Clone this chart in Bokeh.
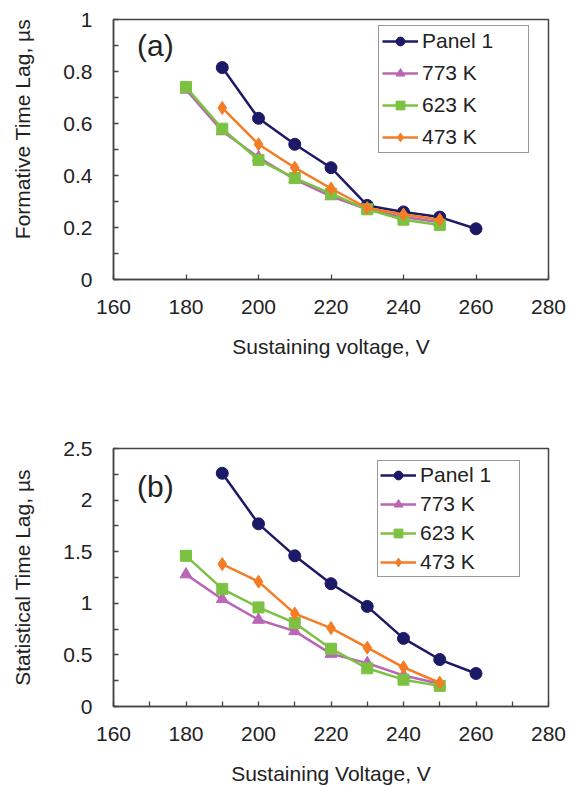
from bokeh.plotting import figure
from bokeh.layouts import column
from bokeh.models import Range1d, FixedTicker, CustomJSTickFormatter, Legend, LegendItem, Label
from bokeh.embed import file_html
from bokeh.resources import INLINE

# ---------------- data ----------------
volt_panel1 = [190, 200, 210, 220, 230, 240, 250, 260]
volt_heat = [180, 190, 200, 210, 220, 230, 240, 250]
volt_473 = [190, 200, 210, 220, 230, 240, 250]

form_panel1 = [0.815, 0.62, 0.52, 0.43, 0.285, 0.26, 0.24, 0.195]
form_773 = [0.73, 0.57, 0.47, 0.385, 0.32, 0.27, 0.24, 0.22]
form_623 = [0.74, 0.58, 0.46, 0.39, 0.33, 0.27, 0.23, 0.21]
form_473 = [0.66, 0.52, 0.43, 0.35, 0.275, 0.25, 0.23]

stat_panel1 = [2.26, 1.77, 1.46, 1.19, 0.97, 0.66, 0.455, 0.32]
stat_773 = [1.28, 1.04, 0.84, 0.73, 0.51, 0.42, 0.30, 0.22]
stat_623 = [1.46, 1.14, 0.96, 0.81, 0.56, 0.37, 0.26, 0.20]
stat_473 = [1.38, 1.21, 0.90, 0.76, 0.57, 0.38, 0.23]

series_names = ["Panel 1", "773 K", "623 K", "473 K"]
x_ticks = [160, 180, 200, 220, 240, 260, 280]
x_minor_b = [170, 190, 210, 230, 250, 270]
y_ticks_a = [0, 0.2, 0.4, 0.6, 0.8, 1.0]
y_minor_a = [0.1, 0.3, 0.5, 0.7, 0.9]
y_ticks_b = [0, 0.5, 1.0, 1.5, 2.0, 2.5]
y_minor_b = [0.25, 0.75, 1.25, 1.75, 2.25]

# ---------------- styles ----------------
FONT = "Liberation Sans"
TXT = "#222222"
AX = "#444444"
FS = "21px"
styles = [
    dict(color="#1c1a66", marker="circle", size=12),
    dict(color="#b966b5", marker="triangle", size=12),
    dict(color="#7cc242", marker="square", size=11),
    dict(color="#f47c24", marker="diamond", size=13),
]
fmt = CustomJSTickFormatter(code="return String(Math.round(tick*100)/100);")


def make_fig(ymax, yt, ymin, xminor, ylabel, xlabel, top, fh, bottom,
             xs_list, ys_list, tag, leg_loc, leg_pad, leg_spacing, leg_lw,
             tag_y):
    p = figure(frame_width=435, frame_height=fh, output_backend="svg",
               toolbar_location=None, x_range=Range1d(160, 280),
               y_range=Range1d(0, ymax), min_border_left=113,
               min_border_right=22, min_border_top=top,
               min_border_bottom=bottom, background_fill_color="white",
               border_fill_color="white")
    p.grid.visible = False
    p.outline_line_color = AX
    p.outline_line_width = 1.5
    p.xaxis.ticker = FixedTicker(ticks=x_ticks, minor_ticks=xminor)
    p.yaxis.ticker = FixedTicker(ticks=yt, minor_ticks=ymin)
    for ax in (p.xaxis[0], p.yaxis[0]):
        ax.formatter = fmt
        ax.axis_line_color = AX
        ax.axis_line_width = 1.5
        ax.major_tick_line_color = AX
        ax.minor_tick_line_color = AX
        ax.major_tick_line_width = 1.3
        ax.minor_tick_line_width = 1.3
        ax.major_tick_in = 5
        ax.major_tick_out = 0
        ax.minor_tick_in = 5
        ax.minor_tick_out = 0
        ax.major_label_text_font = FONT
        ax.major_label_text_font_size = FS
        ax.major_label_text_color = TXT
        ax.axis_label_text_font = FONT
        ax.axis_label_text_font_size = FS
        ax.axis_label_text_font_style = "normal"
        ax.axis_label_text_color = TXT
    p.xaxis.major_label_standoff = 20
    p.yaxis.major_label_standoff = 21
    p.xaxis.axis_label = xlabel
    p.yaxis.axis_label = ylabel
    p.xaxis.axis_label_standoff = 18
    p.yaxis.axis_label_standoff = 26

    items = []
    for name, xs, ys, st in zip(series_names, xs_list, ys_list, styles):
        r1 = p.line(xs, ys, line_color=st["color"], line_width=2.5)
        r2 = p.scatter(xs, ys, marker=st["marker"], size=st["size"],
                       fill_color=st["color"], line_color=st["color"])
        items.append(LegendItem(label=name, renderers=[r1, r2]))
    leg = Legend(items=items, location=leg_loc, padding=leg_pad,
                 spacing=leg_spacing, glyph_width=36, glyph_height=22,
                 label_height=22, label_width=leg_lw, label_standoff=4,
                 label_text_font=FONT, label_text_font_size=FS,
                 label_text_color=TXT, border_line_color="#333333",
                 border_line_width=1.5, background_fill_alpha=1.0,
                 margin=0)
    p.add_layout(leg)
    p.add_layout(Label(x=166.5, y=tag_y, text=tag, text_font=FONT,
                       text_font_size="30px", text_color=TXT,
                       text_baseline="middle", text_align="left"))
    return p


pa = make_fig(1.0, y_ticks_a, y_minor_a, [], "\u00a0" * 7 + "Formative Time Lag, \u00b5s",
              "Sustaining voltage, V", 19, 260, 110,
              [volt_panel1, volt_heat, volt_heat, volt_473],
              [form_panel1, form_773, form_623, form_473],
              "(a)", (265, 126), 3, 8, 103, 0.9)
pb = make_fig(2.5, y_ticks_b, y_minor_b, x_minor_b, "Statistical Time Lag, \u00b5s",
              "Sustaining Voltage, V", 59, 258, 81,
              [volt_panel1, volt_heat, volt_heat, volt_473],
              [stat_panel1, stat_773, stat_623, stat_473],
              "(b)", (264, 129), 2, 5, 97, 2.13)

layout = column(pa, pb, spacing=0)
open("out.html", "w").write(file_html(layout, INLINE))
